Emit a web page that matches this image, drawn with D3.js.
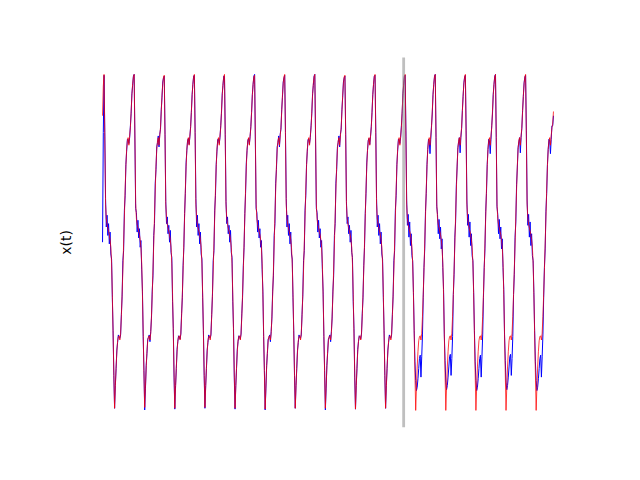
<!DOCTYPE html>
<html><head><meta charset="utf-8">
<script src="https://cdn.jsdelivr.net/npm/d3@7"></script>
<style>html,body{margin:0;padding:0;background:#fff;}</style>
</head><body>
<script>
// sampling of the time series
const tStep = 0.05;
// end of training window (vertical marker)
const splitTime = 20;
const yLabel = "x(t)";

// model prediction (red), one row per cycle starting at each peak
const modelValues = [
1.50, 1.85,
1.99, 1.25, 0.45, 0.28, 0.21, 0.17, 0.13, 0.09, 0.03, -0.06, -0.25, -0.62, -1.08, -1.55, -1.97, -1.72, -1.48, -1.30, -1.17, -1.12, -1.11, -1.16, -1.08, -0.88, -0.62, -0.33, -0.02, 0.30, 0.62, 0.90, 1.10, 1.20, 1.24, 1.15, 1.26, 1.36, 1.55, 1.74, 1.88, 1.96,
1.99, 1.26, 0.46, 0.28, 0.21, 0.17, 0.13, 0.09, 0.03, -0.06, -0.25, -0.62, -1.08, -1.55, -1.96, -1.72, -1.48, -1.30, -1.17, -1.12, -1.11, -1.16, -1.08, -0.88, -0.62, -0.33, -0.02, 0.30, 0.62, 0.90, 1.10, 1.20, 1.24, 1.15, 1.26, 1.36, 1.55, 1.74, 1.88, 1.96,
1.98, 1.25, 0.45, 0.28, 0.21, 0.17, 0.13, 0.09, 0.03, -0.06, -0.25, -0.62, -1.08, -1.55, -1.97, -1.72, -1.48, -1.30, -1.17, -1.12, -1.11, -1.16, -1.08, -0.88, -0.62, -0.33, -0.02, 0.30, 0.62, 0.90, 1.10, 1.20, 1.24, 1.15, 1.26, 1.36, 1.55, 1.74, 1.88, 1.96,
1.99, 1.25, 0.45, 0.28, 0.21, 0.17, 0.13, 0.09, 0.03, -0.06, -0.25, -0.62, -1.08, -1.55, -1.96, -1.72, -1.48, -1.30, -1.17, -1.12, -1.11, -1.16, -1.08, -0.88, -0.62, -0.33, -0.02, 0.30, 0.62, 0.90, 1.10, 1.20, 1.24, 1.15, 1.26, 1.36, 1.55, 1.74, 1.88, 1.96,
1.99, 1.24, 0.45, 0.28, 0.21, 0.17, 0.13, 0.09, 0.03, -0.06, -0.25, -0.62, -1.08, -1.55, -1.97, -1.72, -1.48, -1.30, -1.17, -1.12, -1.11, -1.16, -1.08, -0.88, -0.62, -0.33, -0.02, 0.30, 0.62, 0.90, 1.10, 1.20, 1.24, 1.15, 1.26, 1.36, 1.55, 1.74, 1.88, 1.96,
1.98, 1.25, 0.45, 0.28, 0.21, 0.17, 0.13, 0.09, 0.03, -0.06, -0.25, -0.62, -1.08, -1.55, -1.98, -1.72, -1.48, -1.30, -1.17, -1.12, -1.11, -1.16, -1.08, -0.88, -0.62, -0.33, -0.02, 0.30, 0.62, 0.90, 1.10, 1.20, 1.24, 1.15, 1.26, 1.36, 1.55, 1.74, 1.88, 1.96,
1.99, 1.25, 0.45, 0.28, 0.21, 0.17, 0.13, 0.09, 0.03, -0.06, -0.25, -0.62, -1.08, -1.55, -1.97, -1.72, -1.48, -1.30, -1.17, -1.12, -1.11, -1.16, -1.08, -0.88, -0.62, -0.33, -0.02, 0.30, 0.62, 0.90, 1.10, 1.20, 1.24, 1.15, 1.26, 1.36, 1.55, 1.74, 1.88, 1.96,
1.99, 1.26, 0.45, 0.28, 0.21, 0.17, 0.13, 0.09, 0.03, -0.06, -0.25, -0.62, -1.08, -1.55, -1.97, -1.72, -1.48, -1.30, -1.17, -1.12, -1.11, -1.16, -1.08, -0.88, -0.62, -0.33, -0.02, 0.30, 0.62, 0.90, 1.10, 1.20, 1.24, 1.15, 1.26, 1.36, 1.55, 1.74, 1.88, 1.96,
1.98, 1.25, 0.45, 0.28, 0.21, 0.17, 0.13, 0.09, 0.03, -0.06, -0.25, -0.62, -1.08, -1.55, -1.98, -1.72, -1.48, -1.30, -1.17, -1.12, -1.11, -1.16, -1.08, -0.88, -0.62, -0.33, -0.02, 0.30, 0.62, 0.90, 1.10, 1.20, 1.24, 1.15, 1.26, 1.36, 1.55, 1.74, 1.88, 1.96,
1.99, 1.25, 0.45, 0.28, 0.21, 0.17, 0.13, 0.09, 0.03, -0.06, -0.25, -0.62, -1.08, -1.55, -1.97, -1.72, -1.48, -1.30, -1.17, -1.12, -1.11, -1.16, -1.08, -0.88, -0.62, -0.33, -0.02, 0.30, 0.62, 0.90, 1.10, 1.20, 1.24, 1.15, 1.26, 1.36, 1.55, 1.74, 1.88, 1.96,
1.99, 1.25, 0.45, 0.28, 0.21, 0.17, 0.13, 0.09, 0.03, -0.06, -0.25, -0.62, -1.08, -1.55, -1.995, -1.72, -1.48, -1.30, -1.17, -1.12, -1.11, -1.16, -1.08, -0.88, -0.62, -0.33, -0.02, 0.30, 0.62, 0.90, 1.10, 1.20, 1.24, 1.15, 1.26, 1.36, 1.55, 1.74, 1.88, 1.96,
1.99, 1.25, 0.45, 0.28, 0.21, 0.17, 0.13, 0.09, 0.03, -0.06, -0.25, -0.62, -1.08, -1.55, -1.995, -1.72, -1.48, -1.30, -1.17, -1.12, -1.11, -1.16, -1.08, -0.88, -0.62, -0.33, -0.02, 0.30, 0.62, 0.90, 1.10, 1.20, 1.24, 1.15, 1.26, 1.36, 1.55, 1.74, 1.88, 1.96,
1.99, 1.25, 0.45, 0.28, 0.21, 0.17, 0.13, 0.09, 0.03, -0.06, -0.25, -0.62, -1.08, -1.55, -1.995, -1.72, -1.48, -1.30, -1.17, -1.12, -1.11, -1.16, -1.08, -0.88, -0.62, -0.33, -0.02, 0.30, 0.62, 0.90, 1.10, 1.20, 1.24, 1.15, 1.26, 1.36, 1.55, 1.74, 1.88, 1.96,
1.99, 1.25, 0.45, 0.28, 0.21, 0.17, 0.13, 0.09, 0.03, -0.06, -0.25, -0.62, -1.08, -1.55, -1.995, -1.72, -1.48, -1.30, -1.17, -1.12, -1.11, -1.16, -1.08, -0.88, -0.62, -0.33, -0.02, 0.30, 0.62, 0.90, 1.10, 1.20, 1.24, 1.15, 1.26, 1.36, 1.55, 1.74, 1.88, 1.96,
1.99, 1.25, 0.45, 0.28, 0.21, 0.17, 0.13, 0.09, 0.03, -0.06, -0.25, -0.62, -1.08, -1.55, -1.995, -1.72, -1.48, -1.30, -1.17, -1.12, -1.11, -1.16, -1.08, -0.88, -0.62, -0.33, -0.02, 0.30, 0.62, 0.90, 1.10, 1.20, 1.24, 1.15, 1.26, 1.36, 1.40, 1.55
];

// noisy observations (blue)
const dataValues = [
0.00, 1.30,
1.98, 1.30, 0.52, 0.18, 0.32, 0.08, 0.22, -0.02, 0.12, -0.14, -0.20, -0.66, -1.05, -1.58, -1.97, -1.70, -1.50, -1.28, -1.19, -1.10, -1.13, -1.14, -1.10, -0.86, -0.64, -0.22, -0.10, 0.38, 0.55, 0.92, 1.08, 1.22, 1.22, 1.17, 1.24, 1.38, 1.53, 1.76, 1.86, 1.97,
1.99, 1.20, 0.40, 0.35, 0.12, 0.26, 0.05, 0.16, -0.06, 0.02, -0.32, -0.58, -1.12, -1.52, -1.99, -1.74, -1.46, -1.32, -1.15, -1.13, -1.10, -1.18, -1.06, -0.90, -0.58, -0.40, 0.08, 0.22, 0.70, 0.86, 1.13, 1.18, 1.26, 1.13, 1.28, 1.34, 1.57, 1.72, 1.90, 1.95,
1.97, 1.28, 0.48, 0.22, 0.30, 0.10, 0.20, 0.00, 0.14, -0.12, -0.18, -0.70, -1.02, -1.60, -1.98, -1.70, -1.50, -1.27, -1.18, -1.11, -1.12, -1.15, -1.09, -0.85, -0.66, -0.28, -0.06, 0.34, 0.58, 0.94, 1.09, 1.21, 1.23, 1.16, 1.25, 1.37, 1.54, 1.75, 1.87, 1.97,
1.98, 1.30, 0.52, 0.18, 0.32, 0.08, 0.22, -0.02, 0.12, -0.14, -0.20, -0.66, -1.05, -1.58, -1.97, -1.70, -1.50, -1.28, -1.19, -1.10, -1.13, -1.14, -1.10, -0.86, -0.64, -0.22, -0.10, 0.38, 0.55, 0.92, 1.08, 1.22, 1.22, 1.17, 1.24, 1.38, 1.53, 1.76, 1.86, 1.97,
1.97, 1.28, 0.48, 0.22, 0.30, 0.10, 0.20, 0.00, 0.14, -0.12, -0.18, -0.70, -1.02, -1.60, -1.98, -1.70, -1.50, -1.27, -1.18, -1.11, -1.12, -1.15, -1.09, -0.85, -0.66, -0.28, -0.06, 0.34, 0.58, 0.94, 1.09, 1.21, 1.23, 1.16, 1.25, 1.37, 1.54, 1.75, 1.87, 1.97,
1.99, 1.20, 0.40, 0.35, 0.12, 0.26, 0.05, 0.16, -0.06, 0.02, -0.32, -0.58, -1.12, -1.52, -1.99, -1.74, -1.46, -1.32, -1.15, -1.13, -1.10, -1.18, -1.06, -0.90, -0.58, -0.40, 0.08, 0.22, 0.70, 0.86, 1.13, 1.18, 1.26, 1.13, 1.28, 1.34, 1.57, 1.72, 1.90, 1.95,
1.98, 1.30, 0.52, 0.18, 0.32, 0.08, 0.22, -0.02, 0.12, -0.14, -0.20, -0.66, -1.05, -1.58, -1.97, -1.70, -1.50, -1.28, -1.19, -1.10, -1.13, -1.14, -1.10, -0.86, -0.64, -0.22, -0.10, 0.38, 0.55, 0.92, 1.08, 1.22, 1.22, 1.17, 1.24, 1.38, 1.53, 1.76, 1.86, 1.97,
1.99, 1.20, 0.40, 0.35, 0.12, 0.26, 0.05, 0.16, -0.06, 0.02, -0.32, -0.58, -1.12, -1.52, -1.99, -1.74, -1.46, -1.32, -1.15, -1.13, -1.10, -1.18, -1.06, -0.90, -0.58, -0.40, 0.08, 0.22, 0.70, 0.86, 1.13, 1.18, 1.26, 1.13, 1.28, 1.34, 1.57, 1.72, 1.90, 1.95,
1.97, 1.28, 0.48, 0.22, 0.30, 0.10, 0.20, 0.00, 0.14, -0.12, -0.18, -0.70, -1.02, -1.60, -1.98, -1.70, -1.50, -1.27, -1.18, -1.11, -1.12, -1.15, -1.09, -0.85, -0.66, -0.28, -0.06, 0.34, 0.58, 0.94, 1.09, 1.21, 1.23, 1.16, 1.25, 1.37, 1.54, 1.75, 1.87, 1.97,
1.98, 1.30, 0.52, 0.18, 0.32, 0.08, 0.22, -0.02, 0.12, -0.14, -0.20, -0.66, -1.05, -1.58, -1.97, -1.70, -1.50, -1.28, -1.19, -1.10, -1.13, -1.14, -1.10, -0.86, -0.64, -0.22, -0.10, 0.38, 0.55, 0.92, 1.08, 1.22, 1.22, 1.17, 1.24, 1.38, 1.53, 1.76, 1.86, 1.97,
1.98, 1.32, 0.50, 0.20, 0.33, 0.06, 0.24, -0.04, 0.10, -0.16, -0.22, -0.60, -1.05, -1.42, -1.64, -1.76, -1.72, -1.62, -1.50, -1.38, -1.34, -1.60, -1.36, -1.10, -0.66, -0.30, -0.08, 0.36, 0.58, 0.92, 1.10, 1.22, 1.20, 1.05, 1.22, 1.38, 1.52, 1.75, 1.87, 1.97,
1.99, 1.24, 0.42, 0.33, 0.10, 0.27, 0.04, 0.18, -0.08, 0.04, -0.30, -0.56, -1.10, -1.40, -1.66, -1.75, -1.70, -1.60, -1.48, -1.36, -1.33, -1.58, -1.38, -1.12, -0.62, -0.38, 0.06, 0.24, 0.68, 0.88, 1.12, 1.19, 1.24, 1.06, 1.24, 1.35, 1.56, 1.73, 1.89, 1.96,
1.98, 1.32, 0.50, 0.20, 0.33, 0.06, 0.24, -0.04, 0.10, -0.16, -0.22, -0.60, -1.05, -1.42, -1.64, -1.76, -1.72, -1.62, -1.50, -1.38, -1.34, -1.60, -1.36, -1.10, -0.66, -0.30, -0.08, 0.36, 0.58, 0.92, 1.10, 1.22, 1.20, 1.05, 1.22, 1.38, 1.52, 1.75, 1.87, 1.97,
1.99, 1.24, 0.42, 0.33, 0.10, 0.27, 0.04, 0.18, -0.08, 0.04, -0.30, -0.56, -1.10, -1.40, -1.66, -1.75, -1.70, -1.60, -1.48, -1.36, -1.33, -1.58, -1.38, -1.12, -0.62, -0.38, 0.06, 0.24, 0.68, 0.88, 1.12, 1.19, 1.24, 1.06, 1.24, 1.35, 1.56, 1.73, 1.89, 1.96,
1.98, 1.32, 0.50, 0.20, 0.33, 0.06, 0.24, -0.04, 0.10, -0.16, -0.22, -0.60, -1.05, -1.42, -1.64, -1.76, -1.72, -1.62, -1.50, -1.38, -1.34, -1.60, -1.36, -1.10, -0.66, -0.30, -0.08, 0.36, 0.58, 0.92, 1.10, 1.22, 1.20, 1.05, 1.22, 1.38, 1.38, 1.50
];

const W = 640, H = 480;
const axL = 80, axR = 576, axT = 57.6, axB = 427.2;

const times = modelValues.map((_, i) => i * tStep);
const tExt = d3.extent(times);
const vExt = d3.extent(modelValues.concat(dataValues));
const tPad = (tExt[1] - tExt[0]) * 0.05;
const vPad = (vExt[1] - vExt[0]) * 0.05;

const x = d3.scaleLinear().domain([tExt[0] - tPad, tExt[1] + tPad]).range([axL, axR]);
const y = d3.scaleLinear().domain([vExt[0] - vPad, vExt[1] + vPad]).range([axB, axT]);

const svg = d3.select("body").append("svg")
  .attr("width", W).attr("height", H)
  .style("display", "block")
  .style("background", "#fff");

const line = d3.line()
  .x((d, i) => x(times[i]))
  .y(d => y(d));

svg.append("path")
  .datum(dataValues)
  .attr("d", line)
  .attr("fill", "none")
  .attr("stroke", "#0000ff")
  .attr("stroke-width", 1.0)
  .attr("stroke-linejoin", "round");

svg.append("path")
  .datum(modelValues)
  .attr("d", line)
  .attr("fill", "none")
  .attr("stroke", "#ff0000")
  .attr("stroke-opacity", 0.75)
  .attr("stroke-width", 1.0)
  .attr("stroke-linejoin", "round");

svg.append("line")
  .attr("x1", x(splitTime)).attr("x2", x(splitTime))
  .attr("y1", axT).attr("y2", axB)
  .attr("stroke", "#808080")
  .attr("stroke-opacity", 0.5)
  .attr("stroke-width", 2.8);

svg.append("text")
  .attr("transform", `translate(71,${(axT + axB) / 2}) rotate(-90)`)
  .attr("text-anchor", "middle")
  .style("font-family", "DejaVu Sans, sans-serif")
  .style("font-size", "13.9px")
  .attr("fill", "#000")
  .text(yLabel);
</script>
</body></html>
